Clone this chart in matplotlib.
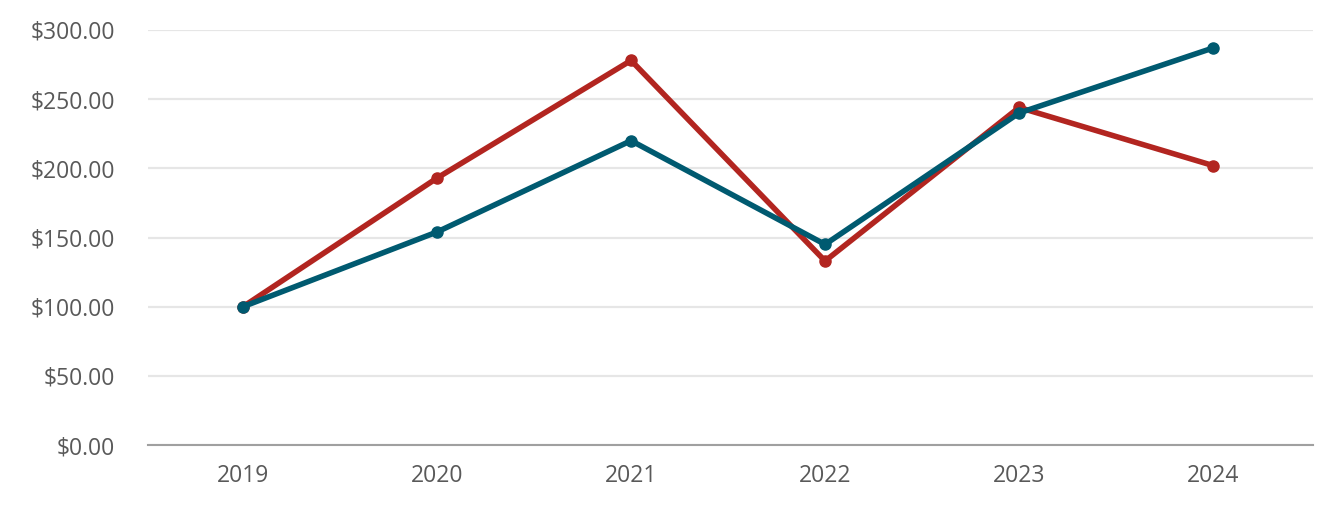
import matplotlib.pyplot as plt
import numpy as np

years = ['2019', '2020', '2021', '2022', '2023', '2024']
red_vals = [100, 193, 278, 133, 244, 202]
teal_vals = [100, 154, 220, 145, 240, 287]
y_ticks = [0, 50, 100, 150, 200, 250, 300]

plt.rcParams['font.family'] = ['Open Sans', 'DejaVu Sans']

fig = plt.figure(figsize=(13.44, 5.18), dpi=100)
ax = fig.add_axes([148/1344, 73/518, (1313-148)/1344, (445-30)/518])

x = np.arange(len(years))
ax.plot(x, red_vals, color='#B22520', lw=4, marker='o', ms=8, clip_on=False, zorder=3)
ax.plot(x, teal_vals, color='#005A70', lw=4, marker='o', ms=8, clip_on=False, zorder=4)

ax.set_xlim(-0.49, 5.515)
ax.set_ylim(0, 300)
ax.set_xticks(x)
ax.set_xticklabels(years)
ax.set_yticks(y_ticks)
ax.set_yticklabels(['$%.2f' % v for v in y_ticks])

ax.grid(axis='y', color='#E6E6E6', lw=1.6)
ax.set_axisbelow(True)
for s in ['top', 'right', 'left']:
    ax.spines[s].set_visible(False)
ax.spines['bottom'].set_color('#A0A0A0')
ax.spines['bottom'].set_linewidth(1.5)
ax.tick_params(axis='both', length=0, labelsize=16.5, colors='#595959')
ax.tick_params(axis='y', pad=24)
ax.tick_params(axis='x', pad=14)

fig.savefig('out.png', dpi=100)
